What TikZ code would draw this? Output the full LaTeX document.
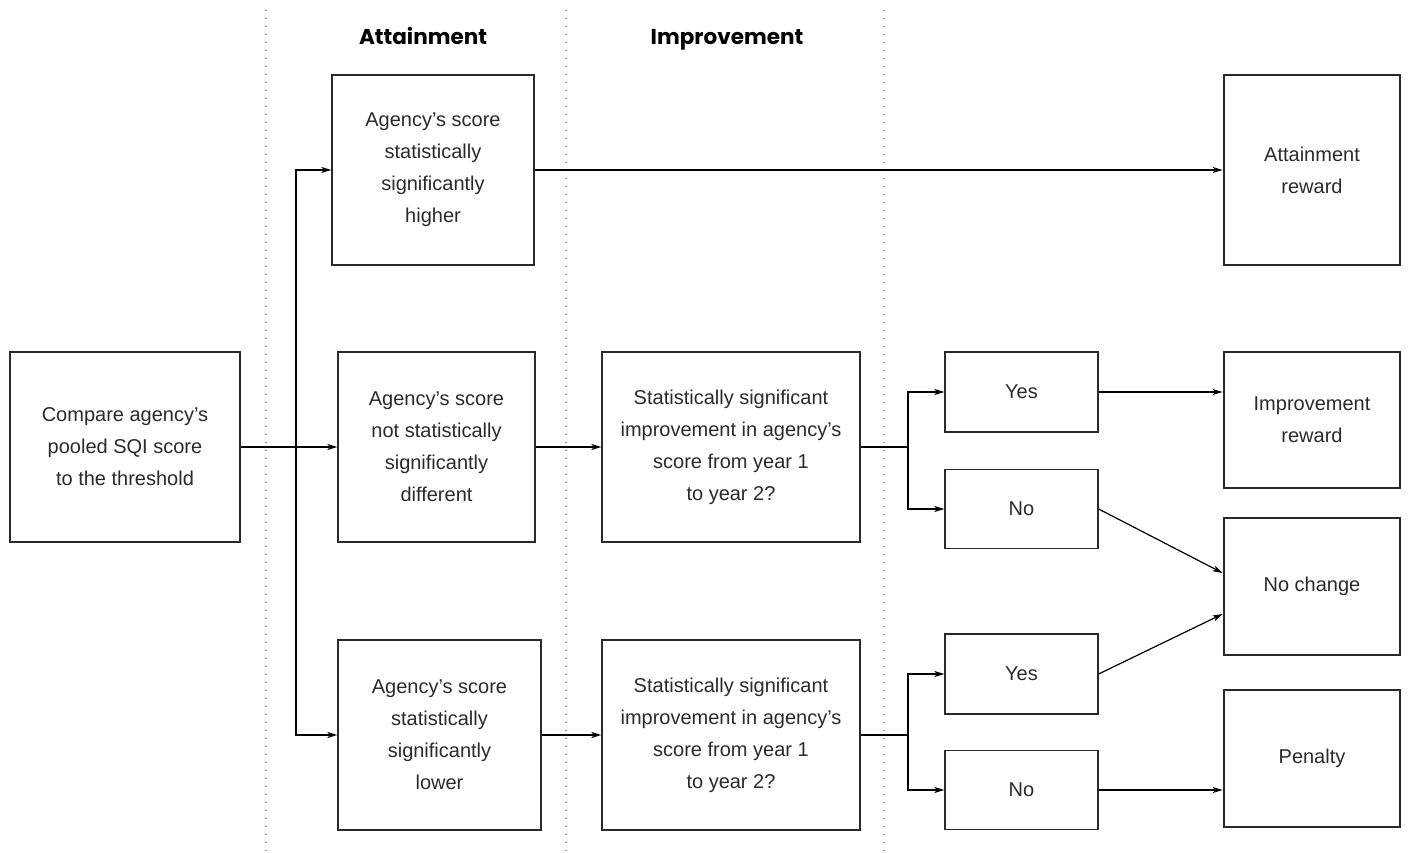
\documentclass[tikz,border=0pt]{standalone}
\usepackage{fontspec}
\setmainfont{Liberation Sans}
\newfontfamily\headfont{Poppins}
\usetikzlibrary{arrows.meta}
\definecolor{ink}{HTML}{2A2A2A}
\tikzset{
  box/.style={draw=ink, line width=1.3pt, text=ink, align=center, inner sep=0pt,
    font=\fontsize{20}{32}\selectfont},
  outbox/.style={box, line width=2.8pt},
  arr/.style={draw=black, line width=1.2pt, -{Stealth[length=10pt,width=6pt,inset=2.5pt]}},
  ln/.style={draw=black, line width=1.2pt},
  sep/.style={draw=gray!80, line width=1.4pt, dash pattern=on 1.4pt off 6.6pt},
  head/.style={font=\headfont\bfseries\fontsize{21.5}{24}\selectfont, text=black, anchor=base}
}
\begin{document}
\begin{tikzpicture}[x=1pt,y=-1pt]
\useasboundingbox (0,0) rectangle (1408,853);
% separators
\draw[sep] (266,10) -- (266,853);
\draw[sep] (566,10) -- (566,853);
\draw[sep] (884,10) -- (884,853);
% headers
\node[head] (h1) at (423,45) {Attainment};
\node[head] (h2) at (727,45) {Improvement};
% boxes
\node[box, minimum width=230pt, minimum height=190pt] (cmp) at (125,447) {Compare agency's\\pooled SQI score\\to the threshold};
\node[box, minimum width=202pt, minimum height=190pt] (a1) at (433,170) {Agency's score\\statistically\\significantly\\higher};
\node[box, minimum width=197pt, minimum height=190pt] (a2) at (436.5,447) {Agency's score\\not statistically\\significantly\\different};
\node[box, minimum width=203pt, minimum height=190pt] (a3) at (439.5,735) {Agency's score\\statistically\\significantly\\lower};
\node[box, minimum width=258pt, minimum height=190pt] (i2) at (731,447) {Statistically significant\\improvement in agency's\\score from year 1\\to year 2?};
\node[box, minimum width=258pt, minimum height=190pt] (i3) at (731,735) {Statistically significant\\improvement in agency's\\score from year 1\\to year 2?};
\node[box, minimum width=153pt, minimum height=80pt] (y2) at (1021.5,392) {Yes};
\node[box, minimum width=153pt, minimum height=79pt] (n2) at (1021.5,509) {No};
\node[box, minimum width=153pt, minimum height=80pt] (y3) at (1021.5,674) {Yes};
\node[box, minimum width=153pt, minimum height=79pt] (n3) at (1021.5,790) {No};
\node[outbox, minimum width=176pt, minimum height=190pt] (r1) at (1312,170) {Attainment\\reward};
\node[outbox, minimum width=176pt, minimum height=136pt] (r2) at (1312,420) {Improvement\\reward};
\node[outbox, minimum width=176pt, minimum height=137pt] (r3) at (1312,586.5) {No change};
\node[outbox, minimum width=176pt, minimum height=137pt] (r4) at (1312,758.5) {Penalty};
% junctions
\coordinate (j1) at (296,447);
\coordinate (j2) at (908,447);
\coordinate (j3) at (908,735);
% connectors
\draw[arr] (cmp.east) -- (a2.west);
\draw[arr] (j1) |- (a1.west);
\draw[arr] (j1) |- (a3.west);
\draw[arr] (a1.east) -- (r1.west);
\draw[arr] (a2.east) -- (i2.west);
\draw[arr] (a3.east) -- (i3.west);
\draw[ln] (i2.east) -- (j2);
\draw[arr] (j2) |- (y2.west);
\draw[arr] (j2) |- (n2.west);
\draw[ln] (i3.east) -- (j3);
\draw[arr] (j3) |- (y3.west);
\draw[arr] (j3) |- (n3.west);
\draw[arr] (y2.east) -- (y2.east -| r2.west);
\draw[arr] (n2.east) -- ([yshift=13.5pt]r3.west);
\draw[arr] (y3.east) -- ([yshift=-27.5pt]r3.west);
\draw[arr] (n3.east) -- (n3.east -| r4.west);
\end{tikzpicture}
\end{document}
